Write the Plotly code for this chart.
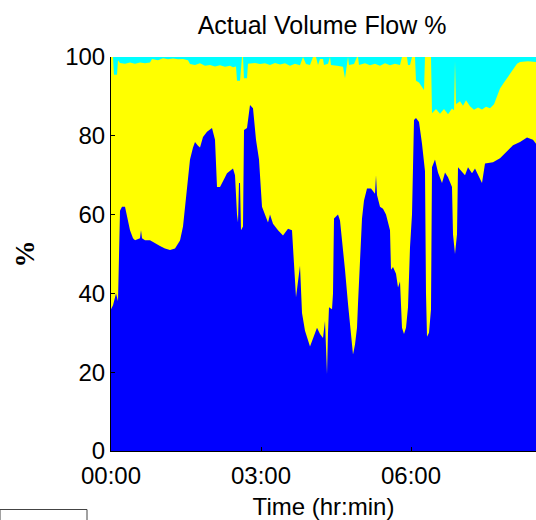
import plotly.graph_objects as go

# time in minutes from 00:00
blue_t = [0, 2.4, 6, 8.4, 10.8, 13.2, 16.8, 20.4, 22.8, 26.4, 28.8, 34.8, 36, 37.2, 40.8, 46.8, 52.8, 58.8, 64.8,
          70.8, 76.8, 82.8, 86.4, 88.8, 92.4, 94.8, 98.4, 100.8, 104.4, 106.8, 110.4, 115.2, 121.2, 124.8, 127.2,
          130.8, 135.6, 139.2, 146.4, 148.8, 151.2, 152.4, 153.6, 154.8, 156, 158.4, 159.6, 163.2, 166.8, 170.4,
          174, 177.6, 181.2, 184.8, 188.4, 190.8, 194.4, 200.4, 206.4, 212.4, 217.2, 219.6, 222, 224.4, 226.8,
          229.2, 232.8, 238.8, 242.4, 247.2, 250.8, 254.4, 256.8, 258, 259.2, 260.4, 261.6, 265.2, 266.4, 267.6,
          272.4, 274.8, 278.4, 280.8, 284.4, 286.8, 289.2, 290.4, 292.8, 295.2, 296.4, 298.8, 301.2, 303.6, 307.2,
          312, 316.8, 318, 319.2, 322.8, 326.4, 330, 334.8, 336, 338.4, 342, 344.4, 346.8, 349.2, 351.6, 354,
          356.4, 358.8, 361.2, 363.6, 366, 369.6, 373.2, 375.6, 376.8, 378, 379.2, 381.6, 384, 385.2, 388.8,
          392.4, 397.2, 400.8, 404.4, 409.2, 410.4, 412.8, 415.2, 416.4, 421.2, 424.8, 428.4, 433.2, 436.8,
          442.8, 445.2, 448.8, 458.4, 466.8, 475.2, 482.4, 490.8, 499.2, 506.4, 510]
blue_v = [36, 37, 40, 38, 61, 62, 62, 58, 56, 54, 53.5, 54, 56, 54, 53.5, 53.5, 52.7, 52, 51.4,
          51, 51.4, 53.4, 57, 62, 69, 74, 77, 78.4, 77.5, 77, 79.7, 81, 82, 79, 67,
          67, 69, 70.5, 71.7, 70, 60, 58, 68, 68, 56, 57, 81.5, 82, 87.8, 87,
          79, 74, 62, 60, 58, 60, 57.7, 56, 54.7, 56.4, 56, 47.5, 39, 43, 47,
          35, 30.5, 26.5, 28.7, 31.3, 29.7, 28.7, 33, 25, 19.5, 30, 36.5, 36, 40, 59,
          60, 58.5, 51.7, 46, 37.4, 32, 28, 24.5, 27, 31.3, 37.4, 49, 59, 63.6, 66.6,
          66.6, 65.3, 70, 65, 62, 61.5, 60, 56, 46, 46.7, 45, 41.5, 43, 31.3, 29.7, 31.3,
          36.5, 51.7, 60, 84, 84.5, 83.5, 78, 73, 71, 40, 29, 30, 36, 72, 74,
          70.7, 68, 70.7, 69.5, 67, 55, 50, 55, 72, 70.7, 70, 72, 70.5, 71.7,
          69, 68, 73, 73.3, 74.3, 76, 77.6, 78.4, 79.6, 79, 78]

top_t = [0, 2.4, 3.6, 7.2, 8.4, 10.8, 16.8, 22.8, 28.8, 34.8, 40.8, 46.8, 49.2, 56.4, 62.4, 68.4, 74.4, 80.4,
         86.4, 92.4, 94.8, 100.8, 106.8, 112.8, 118.8, 124.8, 130.8, 136.8, 142.8, 146.4, 150, 151.2, 154.8, 156,
         157.2, 158.4, 159.6, 163.2, 164.4, 172.8, 178.8, 184.8, 190.8, 196.8, 202.8, 208.8, 214.8, 220.8, 226.8,
         230.4, 234, 238.8, 242.4, 246, 248.4, 250.8, 254.4, 255.6, 260.4, 262.8, 264, 271.2, 278.4, 280.8, 283.2,
         284.4, 285.6, 291.6, 295.2, 296.4, 297.6, 304.8, 310.8, 316.8, 322.8, 328.8, 334.8, 340.8, 346.8, 349.2,
         355.2, 356.4, 358.8, 361.2, 364.8, 366, 369.6, 373.2, 375.6, 376.8, 384, 385.2, 390, 394.8, 399.6, 404.4,
         409.2, 411.6, 412.8, 414, 418.8, 422.4, 426, 430.8, 435.6, 440.4, 445.2, 450, 454.8, 459.6, 463.2, 466.8,
         471.6, 475.2, 478.8, 482.4, 487.2, 490.8, 500.4, 510]
top_v = [100, 100, 95.5, 95.5, 99.2, 98.5, 98.3, 98.6, 98.3, 98.6, 98.4, 98.6, 99.5, 99.2, 99.7, 99.4, 99.6, 99.4,
         99.5, 99.2, 98.2, 98, 98.4, 97.8, 98, 97.6, 97.9, 97.5, 97.8, 97.4, 97.6, 94, 94, 97,
         100, 100, 94.6, 94.6, 98.3, 98.5, 98.2, 98.4, 98, 98.5, 98.1, 98.4, 97.8, 98.3, 97.9,
         100, 98.2, 98, 100, 100, 98, 99.5, 99.5, 98, 98.3, 100, 98, 97.8, 97.5, 94.6, 98,
         100, 98, 98.2, 100, 100, 98, 98.4, 97.9, 98.3, 97.8, 98.4, 97.9, 98.3, 98, 100,
         100, 98, 98, 100, 100, 94, 93.5, 92.5, 91.6, 100, 100, 85.7, 86.8, 85.6, 86.8, 85.5,
         86.9, 86.5, 99, 88, 88.8, 87.6, 89, 87.5, 86.6, 87.2, 86.7, 87.4, 87, 88, 90, 92,
         93.5, 94.6, 95.8, 96.7, 98.3, 98.7, 98.9, 98.7]

full_t = [0, 510]
full_v = [100, 100]

tick_vals = [0, 180, 360]
tick_text = ["00:00", "03:00", "06:00"]

fig = go.Figure()
fig.add_trace(go.Scatter(x=full_t, y=full_v, fill="tozeroy", mode="lines",
                         line=dict(width=0, color="#00FFFF"), fillcolor="#00FFFF", hoverinfo="skip"))
fig.add_trace(go.Scatter(x=top_t, y=top_v, fill="tozeroy", mode="lines",
                         line=dict(width=0, color="#FFFF00"), fillcolor="#FFFF00"))
fig.add_trace(go.Scatter(x=blue_t, y=blue_v, fill="tozeroy", mode="lines",
                         line=dict(width=0, color="#0000FF"), fillcolor="#0000FF"))

fnt = "Liberation Sans, Arial, sans-serif"
fig.update_layout(
    width=536, height=520,
    margin=dict(l=111, r=0, t=57, b=69),
    paper_bgcolor="white", plot_bgcolor="white",
    showlegend=False,
    font=dict(family=fnt, size=24, color="black"),
    title=dict(text="Actual Volume Flow %", x=322 / 536, xanchor="center", y=1 - 25 / 520, yanchor="middle",
               font=dict(family=fnt, size=25, color="black")),
    xaxis=dict(range=[0, 510], tickvals=tick_vals, ticktext=tick_text, ticks="inside", ticklen=4,
               tickcolor="black", showline=True, linecolor="black", linewidth=1, showgrid=False, zeroline=False,
               ticklabelstandoff=3,
               title=dict(text="Time (hr:min)", standoff=12, font=dict(family=fnt, size=24)),
               tickfont=dict(family=fnt, size=24)),
    yaxis=dict(range=[0, 100], tickvals=[0, 20, 40, 60, 80, 100], ticks="inside", ticklen=4, tickcolor="black",
               showline=True, linecolor="black", linewidth=1, showgrid=False, zeroline=False,
               title=dict(text="<b>%</b>", standoff=22, font=dict(family="Liberation Serif, Times New Roman, serif", size=27)),
               tickfont=dict(family=fnt, size=24)),
    shapes=[dict(type="rect", xref="paper", yref="paper", x0=-111 / 425, x1=(87 - 111) / 425,
                 y0=(451 - 509.5) / 394, y1=(451 - 540) / 394, line=dict(color="#444444", width=1),
                 fillcolor="white", layer="above")],
)
fig.write_html("out.html")
